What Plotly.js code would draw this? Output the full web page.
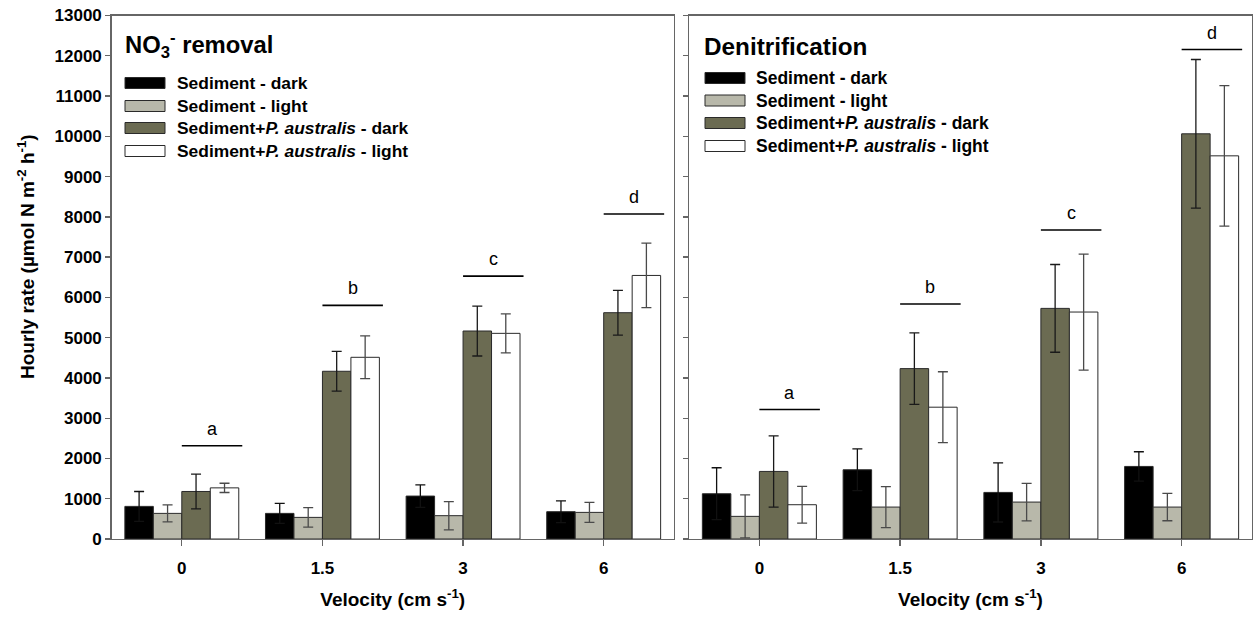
<!DOCTYPE html>
<html>
<head>
<meta charset="utf-8">
<script src="https://cdn.plot.ly/plotly-3.0.1.min.js"></script>
<style>
html,body{margin:0;padding:0;background:#fff;}
#chart{width:1253px;height:622px;}
</style>
</head>
<body>
<div id="chart"></div>
<script>
// ---------- data ----------
const velocityLabels = ['0', '1.5', '3', '6'];
const velocityIndex = [0, 1, 2, 3];

const seriesNames = ['Sediment - dark', 'Sediment - light', 'Sediment+<i>P. australis</i> - dark', 'Sediment+<i>P. australis</i> - light'];

// NO3- removal (µmol N m-2 h-1)
const no3SedDark = [810, 636, 1066, 678];
const no3SedDarkErr = [370, 250, 280, 270];
const no3SedLight = [636, 537, 579, 661];
const no3SedLightErr = [210, 240, 350, 250];
const no3PhrDark = [1180, 4165, 5165, 5620];
const no3PhrDarkErr = [430, 495, 620, 555];
const no3PhrLight = [1270, 4512, 5107, 6545];
const no3PhrLightErr = [115, 530, 485, 800];
const no3Letters = ['a', 'b', 'c', 'd'];
const no3LetterLevel = [2314, 5802, 6529, 8070];

// Denitrification (µmol N m-2 h-1)
const denSedDark = [1124, 1719, 1157, 1802];
const denSedDarkErr = [645, 520, 735, 365];
const denSedLight = [562, 793, 917, 793];
const denSedLightErr = [535, 510, 465, 340];
const denPhrDark = [1678, 4231, 5727, 10062];
const denPhrDarkErr = [885, 890, 1090, 1845];
const denPhrLight = [851, 3273, 5636, 9515];
const denPhrLightErr = [455, 880, 1440, 1745];
const denLetters = ['a', 'b', 'c', 'd'];
const denLetterLevel = [3215, 5835, 7672, 12154];

// ---------- styling ----------
const W = 1253, H = 622;
const FONT = 'Liberation Sans, Arial, sans-serif';
const fillColors = ['#000000', '#b8b8aa', '#6b6b52', '#ffffff'];
const errColors = ['#111111', '#4a4a4a', '#1a1a1a', '#4a4a4a'];
const px = v => v / W;
const py = v => 1 - v / H;

function makeTraces(vals, errs, xa, ya) {
  return vals.map((v, k) => ({
    type: 'bar',
    x: velocityIndex,
    y: v,
    name: seriesNames[k],
    xaxis: xa, yaxis: ya,
    showlegend: false,
    marker: {color: fillColors[k], line: {color: '#2a2a2a', width: 1}},
    error_y: {type: 'data', array: errs[k], visible: true, color: errColors[k], thickness: 1.3, width: 5},
    hoverinfo: 'y'
  }));
}

const traces = [].concat(
  makeTraces([no3SedDark, no3SedLight, no3PhrDark, no3PhrLight],
             [no3SedDarkErr, no3SedLightErr, no3PhrDarkErr, no3PhrLightErr], 'x', 'y'),
  makeTraces([denSedDark, denSedLight, denPhrDark, denPhrLight],
             [denSedDarkErr, denSedLightErr, denPhrDarkErr, denPhrLightErr], 'x2', 'y2')
);

const shapes = [];
const annotations = [];

// significance letters with bars
function addLetters(letters, levels, xr, yr) {
  letters.forEach((t, i) => {
    shapes.push({type: 'line', xref: xr, yref: yr, x0: i + 0.0, x1: i + 0.43, y0: levels[i], y1: levels[i],
                 line: {color: '#000', width: 1.6}});
    annotations.push({xref: xr, yref: yr, x: i + 0.215, y: levels[i], text: t, showarrow: false,
                      yanchor: 'middle', yshift: 17, font: {family: FONT, size: 18, color: '#000'}});
  });
}
addLetters(no3Letters, no3LetterLevel, 'x', 'y');
addLetters(denLetters, denLetterLevel, 'x2', 'y2');

// custom legends
function addLegend(title, titleSize, titleX, titleY, swX0, swX1, textX, rows, fontSize) {
  annotations.push({xref: 'paper', yref: 'paper', x: px(titleX), y: py(titleY), text: '<b>' + title + '</b>',
                    showarrow: false, xanchor: 'left', yanchor: 'middle',
                    font: {family: FONT, size: titleSize, color: '#000'}});
  rows.forEach((ry, k) => {
    shapes.push({type: 'rect', xref: 'paper', yref: 'paper', x0: px(swX0), x1: px(swX1),
                 y0: py(ry + 5.5), y1: py(ry - 5.5), fillcolor: fillColors[k],
                 line: {color: '#2a2a2a', width: 1}});
    annotations.push({xref: 'paper', yref: 'paper', x: px(textX), y: py(ry), text: '<b>' + seriesNames[k] + '</b>',
                      showarrow: false, xanchor: 'left', yanchor: 'middle',
                      font: {family: FONT, size: fontSize, color: '#000'}});
  });
}
addLegend('NO<sub>3</sub><sup>-</sup> removal', 23.8, 123, 45, 125, 165, 175, [83, 106, 128, 151], 17.4);
addLegend('Denitrification', 24.3, 702, 46, 705, 745, 754, [78, 100.5, 123, 146], 17.5);

// y-axis title
annotations.push({xref: 'paper', yref: 'paper', x: px(26), y: py(257), textangle: -90,
                  text: '<b>Hourly rate (µmol N m<sup>-2</sup> h<sup>-1</sup>)</b>', showarrow: false,
                  xanchor: 'center', yanchor: 'middle',
                  font: {family: FONT, size: 19, color: '#000'}});

const yDom = [py(539), py(15.5)];
const axisCommon = {
  showline: true, linecolor: '#666', linewidth: 1.3, mirror: true,
  showgrid: false, zeroline: false, ticks: 'outside', ticklen: 5, tickcolor: '#666', tickwidth: 1.3,
  tickfont: {family: FONT, size: 17, color: '#000', weight: 'bold'}, fixedrange: true
};
function xAxis(dom, anchor) {
  return Object.assign({}, axisCommon, {
    domain: dom, anchor: anchor, range: [-0.5, 3.5], tickmode: 'array',
    tickvals: velocityIndex, ticktext: velocityLabels, ticklen: 6, ticklabelstandoff: 7,
    title: {text: '<b>Velocity (cm s<sup>-1</sup>)</b>', standoff: 16,
            font: {family: FONT, size: 19, color: '#000'}}
  });
}
function yAxis(anchor, labels) {
  return Object.assign({}, axisCommon, {
    domain: yDom, anchor: anchor, range: [0, 13000], dtick: 1000, tick0: 0,
    tickformat: 'd', showticklabels: labels
  });
}

const layout = {
  width: W, height: H,
  margin: {l: 0, r: 0, t: 0, b: 0, pad: 0},
  paper_bgcolor: '#fff', plot_bgcolor: '#fff',
  barmode: 'group', bargap: 0.19, bargroupgap: 0,
  showlegend: false,
  font: {family: FONT, color: '#000'},
  xaxis: xAxis([px(111.5), px(674)], 'y'),
  yaxis: yAxis('x', true),
  xaxis2: xAxis([px(689), px(1252)], 'y2'),
  yaxis2: yAxis('x2', false),
  shapes: shapes,
  annotations: annotations
};

Plotly.newPlot('chart', traces, layout, {displayModeBar: false, staticPlot: true});
</script>
</body>
</html>
